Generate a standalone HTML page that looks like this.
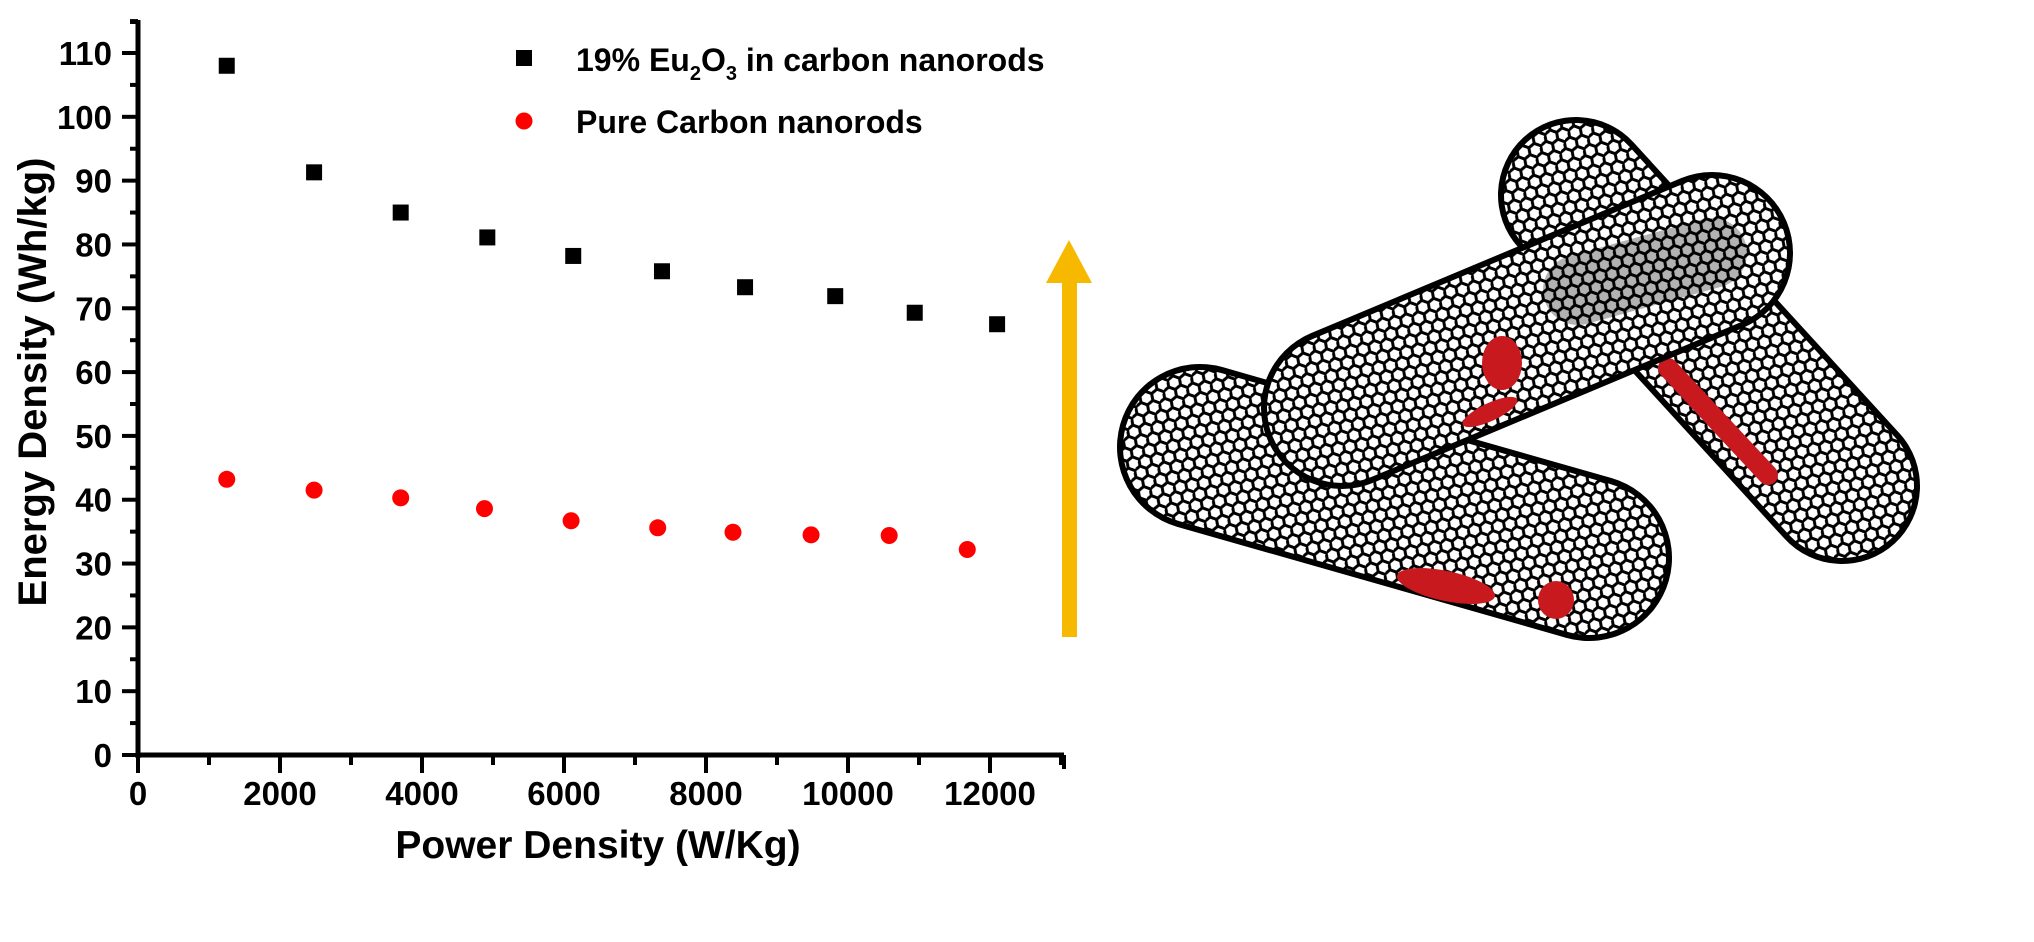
<!DOCTYPE html>
<html><head><meta charset="utf-8"><style>
html,body{margin:0;padding:0;background:#fff}
svg{display:block}
text{font-family:"Liberation Sans",Arial,sans-serif;font-weight:bold;fill:#000}
</style></head><body>
<svg id="chart" width="2034" height="942" viewBox="0 0 2034 942">
<defs>
<pattern id="hex" width="20.8" height="12" patternUnits="userSpaceOnUse" patternTransform="rotate(20)">
<rect width="20.8" height="12" fill="#fff"/>
<path d="M0,6 L3.5,0 L10.4,0 L13.9,6 L10.4,12 L3.5,12 Z M13.9,6 L20.8,6" fill="none" stroke="#000" stroke-width="3"/>
</pattern>
</defs>
<g id="axes"></g>
<g id="marks"></g>
<g id="legend">
<rect x="516" y="50" width="16" height="16" fill="#000"/>
<text x="576" y="71" font-size="32">19%  Eu<tspan font-size="20" dy="9">2</tspan><tspan dy="-9">O</tspan><tspan font-size="20" dy="9">3</tspan><tspan dy="-9"> in carbon nanorods</tspan></text>
<circle cx="524" cy="121" r="8.5" fill="#f00"/>
<text x="576" y="133" font-size="32">Pure Carbon nanorods</text>
</g>
<text x="598" y="858" font-size="39" text-anchor="middle">Power Density (W/Kg)</text>
<text transform="translate(46,382) rotate(-90)" font-size="40" text-anchor="middle">Energy Density (Wh/kg)</text>
<g>
<rect x="1062" y="280" width="15" height="357" fill="#f7b900"/>
<polygon points="1069,240 1046,283 1092,283" fill="#f7b900"/>
</g>
<g id="nanotubes">
<g>
<line x1="1200" y1="447" x2="1589" y2="558" stroke="#000" stroke-width="166" stroke-linecap="round"/>
<line x1="1200" y1="447" x2="1589" y2="558" stroke="url(#hex)" stroke-width="154" stroke-linecap="round"/>
<ellipse cx="1446" cy="586" rx="50" ry="15" transform="rotate(12 1446 586)" fill="#c8191e"/>
<ellipse cx="1556" cy="600" rx="18" ry="19" fill="#c8191e"/>
</g>
<g>
<line x1="1576" y1="195" x2="1842" y2="486" stroke="#000" stroke-width="156" stroke-linecap="round"/>
<line x1="1576" y1="195" x2="1842" y2="486" stroke="url(#hex)" stroke-width="144" stroke-linecap="round"/>
<line x1="1668" y1="368" x2="1768" y2="475" stroke="#c8191e" stroke-width="20" stroke-linecap="round"/>
</g>
<g>
<line x1="1342" y1="408" x2="1712" y2="253" stroke="#000" stroke-width="162" stroke-linecap="round"/>
<line x1="1342" y1="408" x2="1712" y2="253" stroke="url(#hex)" stroke-width="150" stroke-linecap="round"/>
<line x1="1578" y1="290" x2="1712" y2="253" stroke="#000" stroke-width="70" stroke-opacity="0.3" stroke-linecap="round"/>
<ellipse cx="1502" cy="363" rx="20" ry="27" fill="#c8191e"/>
<ellipse cx="1490" cy="412" rx="30" ry="9" transform="rotate(-25 1490 412)" fill="#c8191e"/>
</g>
</g>
<script>
var xTicks=[0,2000,4000,6000,8000,10000,12000];
var yTicks=[0,10,20,30,40,50,60,70,80,90,100,110];
var euX=[1250,2480,3700,4920,6130,7380,8550,9820,10940,12100];
var euY=[108,91.3,85,81.1,78.2,75.8,73.3,71.9,69.3,67.5];
var pureX=[1250,2480,3700,4880,6100,7320,8380,9480,10580,11680];
var pureY=[43.2,41.5,40.3,38.6,36.7,35.6,34.9,34.5,34.4,32.2];
var X0=138,Y0=755,XS=(280-138)/2000,YS=(755-53)/110;
function sx(v){return X0+v*XS;}
function sy(v){return Y0-v*YS;}
var NS="http://www.w3.org/2000/svg";
var ax=document.getElementById('axes'),mk=document.getElementById('marks');
function el(t,a,p){var e=document.createElementNS(NS,t);for(var k in a)e.setAttribute(k,a[k]);p.appendChild(e);return e;}
var yl=el('line',{x1:X0,y1:20,x2:X0,y2:Y0+3,stroke:'#000','stroke-width':5},ax);


var xl=el('line',{x1:X0-2,y1:Y0,x2:1064,y2:Y0,stroke:'#000','stroke-width':5},ax);


el('line',{x1:X0,y1:22,x2:X0-8,y2:22,stroke:'#000','stroke-width':4},ax);
el('line',{x1:1064,y1:Y0,x2:1064,y2:Y0+14,stroke:'#000','stroke-width':4},ax);
yTicks.forEach(function(v){
 el('line',{x1:X0-16,y1:sy(v),x2:X0,y2:sy(v),stroke:'#000','stroke-width':4},ax);
 el('line',{x1:X0-8,y1:sy(v+5),x2:X0,y2:sy(v+5),stroke:'#000','stroke-width':4},ax);
 var t=el('text',{x:112,y:sy(v)+12,'font-size':33,'text-anchor':'end'},ax);
 t.textContent=v;
 
 
});
xTicks.forEach(function(v){
 el('line',{x1:sx(v),y1:Y0,x2:sx(v),y2:Y0+18,stroke:'#000','stroke-width':4},ax);
 el('line',{x1:sx(v+1000),y1:Y0,x2:sx(v+1000),y2:Y0+10,stroke:'#000','stroke-width':4},ax);
 var t=el('text',{x:sx(v),y:Y0+50,'font-size':33,'text-anchor':'middle'},ax);
 t.textContent=v;
 
 
});
euX.forEach(function(x,i){
 var r=el('rect',{x:sx(x)-8,y:sy(euY[i])-8,width:16,height:16,fill:'#000'},mk);
 
 
});
pureX.forEach(function(x,i){
 var c=el('circle',{cx:sx(x),cy:sy(pureY[i]),r:8.5,fill:'#f00'},mk);
 
 
});
</script>
</svg>
</body></html>
